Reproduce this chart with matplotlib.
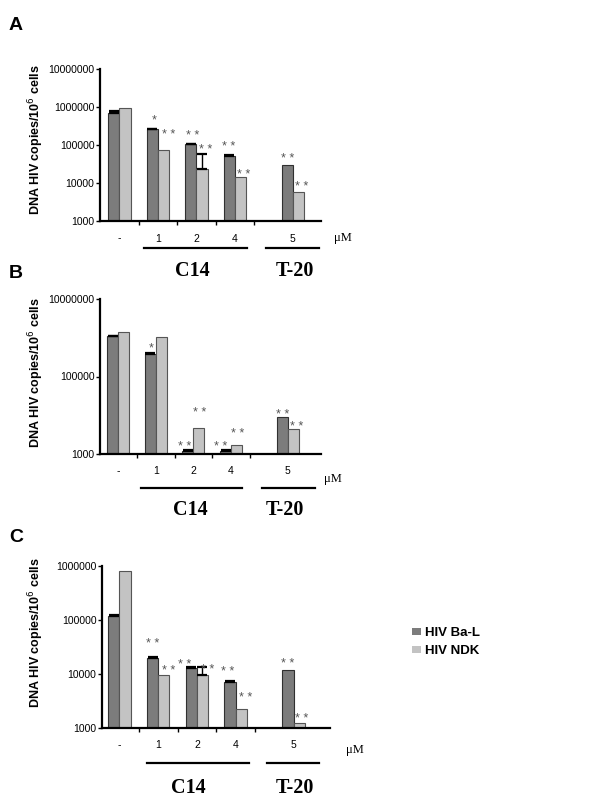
import matplotlib
matplotlib.use("Agg")
import matplotlib.pyplot as plt
from matplotlib.lines import Line2D
from matplotlib.patches import Rectangle

# ---------------- data ----------------
categories = ["-", "1", "2", "4", "5"]
series_names = ["HIV Ba-L", "HIV NDK"]

A_bal = [690000, 257000, 105000, 51000, 29000]
A_ndk = [950000, 73000, 23000, 14000, 5700]
A_bal_err = [86000, 8000, 4000, 2000, 0]
A_ndk_err = [0, 0, 34000, 0, 0]
A_sig_bal = ["", "*", "**", "**", "**"]
A_sig_ndk = ["", "**", "**", "**", "**"]

B_bal = [1100000, 390000, 1200, 1230, 8900]
B_ndk = [1420000, 1050000, 4700, 1730, 4550]
B_bal_err = [40000, 15000, 60, 60, 0]
B_ndk_err = [0, 0, 0, 0, 0]
B_sig_bal = ["", "*", "**", "**", "**"]
B_sig_ndk = ["", "", "**", "**", "**"]

C_bal = [118000, 19600, 12800, 7000, 11700]
C_ndk = [810000, 9500, 9500, 2240, 1220]
C_bal_err = [6000, 900, 500, 300, 0]
C_ndk_err = [0, 0, 3800, 0, 0]
C_sig_bal = ["", "**", "**", "**", "**"]
C_sig_ndk = ["", "**", "**", "**", "**"]

# ---------------- styles / layout ----------------
W, H = 600, 800
DARK = "#7c7c7c"
LIGHT = "#c3c3c3"
STAR = "#555555"
SANS = "Liberation Sans"
SERIF = "Liberation Serif"
xpos = [0, 1, 2, 3, 4.5]
bw = 0.29

fig = plt.figure(figsize=(6, 8), dpi=100)


def fx(x):
    return x / W


def fy(y):
    return 1 - y / H


def make_axes(l, t, r, b):
    return fig.add_axes([fx(l), fy(b), (r - l) / W, (b - t) / H])


panels = [
    dict(box=(100, 69, 321, 221), xlim=(-0.506, 5.234), ylim=(1e3, 1e7),
         yticks=[1e3, 1e4, 1e5, 1e6, 1e7],
         bal=A_bal, ndk=A_ndk, bal_err=A_bal_err, ndk_err=A_ndk_err,
         sb=A_sig_bal, sn=A_sig_ndk,
         off_b=[(0, 0), (1.5, 12), (1.5, 12), (-1, 12), (0, 10)],
         off_n=[(0, 0), (5, 19), (3.5, 8), (3, 6), (3, 9)],
         letter=("A", 16, 25), ylab=(36, 140), um=(343, 238),
         lines=((144, 247), (266, 319), 248), grp=((192, 271), (295, 271))),
    dict(box=(100, 299, 321, 454), xlim=(-0.477, 5.385), ylim=(1e3, 1e7),
         yticks=[1e3, 1e5, 1e7],
         bal=B_bal, ndk=B_ndk, bal_err=B_bal_err, ndk_err=B_ndk_err,
         sb=B_sig_bal, sn=B_sig_ndk,
         off_b=[(0, 0), (1, 9), (-3, 7), (-5, 7), (0, 6)],
         off_n=[(0, 0), (0, 0), (0.5, 19), (1.5, 15), (4, 6)],
         letter=("B", 16, 273), ylab=(36, 373), um=(333, 479),
         lines=((141, 242), (262, 315), 488), grp=((190, 510), (285, 510))),
    dict(box=(102, 566, 330, 728), xlim=(-0.452, 5.44), ylim=(1e3, 1e6),
         yticks=[1e3, 1e4, 1e5, 1e6],
         bal=C_bal, ndk=C_ndk, bal_err=C_bal_err, ndk_err=C_ndk_err,
         sb=C_sig_bal, sn=C_sig_ndk,
         off_b=[(0, 0), (0.5, 17), (-6.5, 6), (-2.5, 13), (0, 10)],
         off_n=[(0, 0), (4.5, 8), (5.5, 1), (4.5, 15), (2, 8)],
         letter=("C", 16, 537), ylab=(36, 633), um=(355, 750),
         lines=((147, 249), (267, 319), 763), grp=((188, 788), (295, 788))),
]

for p in panels:
    ax = make_axes(*p["box"])
    ax.set_yscale("log")
    ax.set_xlim(*p["xlim"])
    ax.set_ylim(*p["ylim"])
    for s in ("top", "right"):
        ax.spines[s].set_visible(False)
    for s in ("left", "bottom"):
        ax.spines[s].set_linewidth(1.6)
        ax.spines[s].set_color("black")

    xb = [x - bw / 2 for x in xpos]
    xn = [x + bw / 2 for x in xpos]
    bot = p["ylim"][0]
    hb = [v - bot for v in p["bal"]]
    hn = [v - bot for v in p["ndk"]]
    ax.bar(xb, hb, bw, bottom=bot, color=DARK, edgecolor="#303030", linewidth=0.8, zorder=2)
    ax.bar(xn, hn, bw, bottom=bot, color=LIGHT, edgecolor="#555555", linewidth=0.8, zorder=2)

    for xs, vals, errs in ((xb, p["bal"], p["bal_err"]), (xn, p["ndk"], p["ndk_err"])):
        for x, v, e in zip(xs, vals, errs):
            if e > 0:
                ax.errorbar([x], [v], yerr=[[0], [e]], fmt="none", ecolor="black",
                            elinewidth=1.0, capsize=3.8, capthick=1.6, zorder=3)

    for xs, vals, errs, sig, offs in ((xb, p["bal"], p["bal_err"], p["sb"], p["off_b"]),
                                      (xn, p["ndk"], p["ndk_err"], p["sn"], p["off_n"])):
        for x, v, e, s, (dx, dy) in zip(xs, vals, errs, sig, offs):
            if s:
                ax.annotate(" ".join(s), xy=(x, v + e), xytext=(dx, dy - 7),
                            textcoords="offset pixels", ha="center", va="baseline",
                            fontsize=9, color=STAR, family=SANS, zorder=4)

    ax.set_yticks(p["yticks"])
    ax.set_yticklabels([f"{int(t)}" for t in p["yticks"]], family=SANS, fontsize=7.5)
    ax.yaxis.set_minor_locator(matplotlib.ticker.NullLocator())
    ax.tick_params(axis="y", which="major", length=3, width=1, direction="out", pad=1)

    ax.set_xticks(xpos)
    ax.set_xticklabels(categories, family=SANS, fontsize=7.5)
    ax.tick_params(axis="x", which="major", length=0, pad=9)
    ax.set_xticks([0.5, 1.5, 2.5, 3.5], minor=True)
    ax.tick_params(axis="x", which="minor", length=3, width=1, direction="out")

    # outside annotations
    lt, lx, ly = p["letter"]
    fig.text(fx(lx), fy(ly), lt, family=SANS, fontweight="bold", fontsize=14,
             ha="center", va="center")
    yx, yy = p["ylab"]
    fig.text(fx(yx), fy(yy), "DNA HIV copies/10$^{6}$ cells", family=SANS,
             fontweight="bold", fontsize=9, rotation=90, ha="center", va="center")
    ux, uy = p["um"]
    fig.text(fx(ux), fy(uy), "\u03bcM", family=SERIF, fontsize=9, ha="center", va="center")
    (c1, c2), (t1, t2), ly2 = p["lines"]
    for a, b in ((c1, c2), (t1, t2)):
        fig.add_artist(Line2D([fx(a), fx(b)], [fy(ly2), fy(ly2)], color="black", linewidth=1.6))
    (gx1, gy1), (gx2, gy2) = p["grp"]
    fig.text(fx(gx1), fy(gy1), "C14", family=SERIF, fontweight="bold", fontsize=14.5,
             ha="center", va="center")
    fig.text(fx(gx2), fy(gy2), "T-20", family=SERIF, fontweight="bold", fontsize=14.5,
             ha="center", va="center")

# legend
for (sy, col, name, ty) in ((628, DARK, series_names[0], 633), (646, LIGHT, series_names[1], 651)):
    fig.add_artist(Rectangle((fx(412), fy(sy + 7)), 9 / W, 7 / H, transform=fig.transFigure,
                             facecolor=col, edgecolor="none"))
    fig.text(fx(425), fy(ty), name, family=SANS, fontweight="bold", fontsize=9.5,
             ha="left", va="center")

fig.savefig("out.png", dpi=100)
